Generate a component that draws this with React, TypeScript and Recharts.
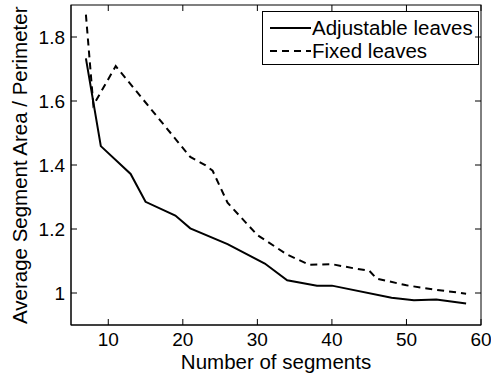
import { LineChart, Line, XAxis, YAxis, Legend } from "recharts"

// Adjustable leaves (solid)
const adjX = [7, 9, 13, 15, 19, 21, 26, 31, 34, 38, 40, 48, 51, 54, 58]
const adjY = [1.733, 1.459, 1.372, 1.285, 1.242, 1.202, 1.153, 1.092, 1.04, 1.023, 1.023, 0.985, 0.977, 0.98, 0.967]

// Fixed leaves (dashed)
const fixX = [7, 8, 11, 21, 23, 24, 26, 30, 34, 37, 40, 43, 45, 46, 50, 54, 58]
const fixY = [1.87, 1.587, 1.709, 1.425, 1.4, 1.382, 1.282, 1.181, 1.12, 1.088, 1.09, 1.077, 1.07, 1.045, 1.024, 1.01, 0.998]

const xTicks = [10, 20, 30, 40, 50, 60]
const yTicks = [1, 1.2, 1.4, 1.6, 1.8]
const xDomain = [5, 60]
const yDomain = [0.9, 1.9]
const seriesNames = ["Adjustable leaves", "Fixed leaves"]
const xTitle = "Number of segments"
const yTitle = "Average Segment Area / Perimeter"

const FONT = "'Liberation Sans', Arial, Helvetica, sans-serif"

// plot box in px (chart margins + axis sizes)
const PLOT_LEFT = 71
const PLOT_TOP = 5
const PLOT_W = 410
const PLOT_H = 320
const TICK_LEN = 6

const adjData = adjX.map((x, i) => ({ x, y: adjY[i] }))
const fixData = fixX.map((x, i) => ({ x, y: fixY[i] }))

// tick positions for the frame overlay
const px = (v: number) => PLOT_LEFT + ((v - xDomain[0]) / (xDomain[1] - xDomain[0])) * PLOT_W
const py = (v: number) => PLOT_TOP + ((yDomain[1] - v) / (yDomain[1] - yDomain[0])) * PLOT_H

const LegendBox = () => (
  <div
    style={{
      border: "1px solid #000",
      background: "#fff",
      padding: "4px 5px 2px 7px",
      fontFamily: FONT,
      fontSize: 20.5,
      color: "#000",
      lineHeight: "23px",
    }}
  >
    {seriesNames.map((name, i) => (
      <div key={name} style={{ display: "flex", alignItems: "center", whiteSpace: "nowrap" }}>
        <svg width={41} height={10} style={{ marginRight: 1 }}>
          <line x1={0} y1={5} x2={41} y2={5} stroke="#000" strokeWidth={2} strokeDasharray={i === 1 ? "7 5" : undefined} />
        </svg>
        <span>{name}</span>
      </div>
    ))}
  </div>
)

// MATLAB-style box with inward ticks on all four sides
const Frame = () => {
  const right = PLOT_LEFT + PLOT_W
  const bottom = PLOT_TOP + PLOT_H
  return (
    <svg
      width={491}
      height={377}
      style={{ position: "absolute", left: 0, top: 0, pointerEvents: "none" }}
    >
      <rect x={PLOT_LEFT} y={PLOT_TOP} width={PLOT_W} height={PLOT_H} fill="none" stroke="#000" strokeWidth={1} />
      {xTicks.map((t) => (
        <g key={"x" + t}>
          <line x1={px(t)} y1={bottom} x2={px(t)} y2={bottom - TICK_LEN} stroke="#000" />
          <line x1={px(t)} y1={PLOT_TOP} x2={px(t)} y2={PLOT_TOP + TICK_LEN} stroke="#000" />
        </g>
      ))}
      {yTicks.map((t) => (
        <g key={"y" + t}>
          <line x1={PLOT_LEFT} y1={py(t)} x2={PLOT_LEFT + TICK_LEN} y2={py(t)} stroke="#000" />
          <line x1={right} y1={py(t)} x2={right - TICK_LEN} y2={py(t)} stroke="#000" />
        </g>
      ))}
    </svg>
  )
}

const titleStyle: any = {
  position: "absolute",
  fontFamily: FONT,
  fontSize: 20.5,
  lineHeight: "20.5px",
  height: 20.5,
  color: "#000",
  textAlign: "center",
  whiteSpace: "nowrap",
}

export default function App() {
  const tickStyle = { fontSize: 19, fontFamily: FONT, fill: "#000" }
  return (
    <div style={{ position: "absolute", left: 0, top: 0, width: 491, height: 377, background: "#fff" }}>
      <LineChart width={491} height={377} data={adjData} margin={{ top: 5, right: 10, bottom: 0, left: 0 }}>
        <XAxis
          dataKey="x"
          type="number"
          domain={xDomain}
          ticks={xTicks}
          allowDataOverflow
          height={52}
          tickLine={false}
          tickSize={0}
          tickMargin={8}
          stroke="#000"
          tick={tickStyle}
        />
        <YAxis
          type="number"
          domain={yDomain}
          ticks={yTicks}
          allowDataOverflow
          width={71}
          tickLine={false}
          tickSize={0}
          tickMargin={6}
          stroke="#000"
          tick={tickStyle}
        />
        <Legend
          layout="horizontal"
          align="center"
          verticalAlign="middle"
          content={<LegendBox />}
          wrapperStyle={{ left: 262, top: 11, width: "auto" }}
        />
        <Line
          data={adjData}
          dataKey="y"
          name={seriesNames[0]}
          stroke="#000"
          strokeWidth={2}
          dot={false}
          isAnimationActive={false}
        />
        <Line
          data={fixData}
          dataKey="y"
          name={seriesNames[1]}
          stroke="#000"
          strokeWidth={2}
          strokeDasharray="7 5"
          dot={false}
          isAnimationActive={false}
        />
      </LineChart>
      <Frame />
      {/* axis titles */}
      <div style={{ ...titleStyle, left: PLOT_LEFT, top: 352, width: PLOT_W }}>{xTitle}</div>
      <div
        style={{
          ...titleStyle,
          left: 20 - PLOT_H / 2,
          top: PLOT_TOP + PLOT_H / 2 - 10.25,
          width: PLOT_H,
          transform: "rotate(-90deg)",
        }}
      >
        {yTitle}
      </div>
    </div>
  )
}
